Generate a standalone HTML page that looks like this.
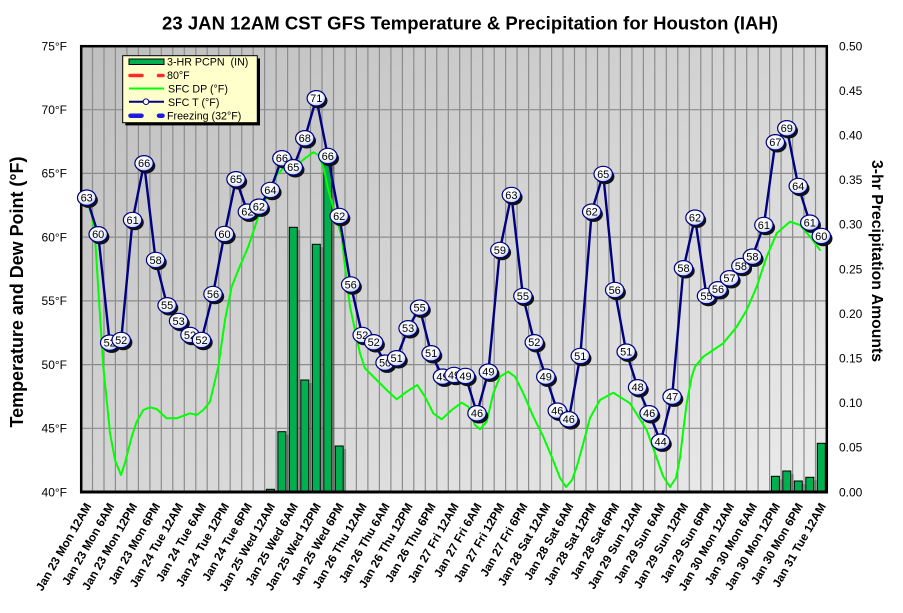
<!DOCTYPE html>
<html>
<head>
<meta charset="utf-8">
<style>
html,body{margin:0;padding:0;background:#fff;}
svg{display:block;}
text{font-family:"Liberation Sans",Arial,sans-serif;}
</style>
</head>
<body>
<svg width="903" height="613" viewBox="0 0 903 613" xmlns="http://www.w3.org/2000/svg">
<defs>
<linearGradient id="bg" x1="0" y1="0" x2="1" y2="1">
<stop offset="0" stop-color="#bfbfbf"/>
<stop offset="1" stop-color="#ebebeb"/>
</linearGradient>
<radialGradient id="mg" cx="0.4" cy="0.35" r="0.7">
<stop offset="0" stop-color="#ffffff"/>
<stop offset="0.6" stop-color="#f4f7ff"/>
<stop offset="1" stop-color="#b8c8ea"/>
</radialGradient>
</defs>

<!-- title -->
<text x="162" y="29.5" font-size="18.5" font-weight="bold" textLength="616" lengthAdjust="spacing">23 JAN 12AM CST GFS Temperature &amp; Precipitation for Houston (IAH)</text>

<!-- plot background -->
<rect x="81" y="46" width="746" height="446" fill="url(#bg)"/>

<!-- grid -->
<path stroke="#8c8c8c" stroke-width="1.2" fill="none" d="M92.5,46V492M104,46V492M115.4,46V492M126.9,46V492M138.4,46V492M149.9,46V492M161.3,46V492M172.8,46V492M184.3,46V492M195.8,46V492M207.2,46V492M218.7,46V492M230.2,46V492M241.7,46V492M253.2,46V492M264.6,46V492M276.1,46V492M287.6,46V492M299.1,46V492M310.5,46V492M322,46V492M333.5,46V492M345,46V492M356.4,46V492M367.9,46V492M379.4,46V492M390.9,46V492M402.4,46V492M413.8,46V492M425.3,46V492M436.8,46V492M448.3,46V492M459.7,46V492M471.2,46V492M482.7,46V492M494.2,46V492M505.6,46V492M517.1,46V492M528.6,46V492M540.1,46V492M551.6,46V492M563,46V492M574.5,46V492M586,46V492M597.5,46V492M608.9,46V492M620.4,46V492M631.9,46V492M643.4,46V492M654.8,46V492M666.3,46V492M677.8,46V492M689.3,46V492M700.8,46V492M712.2,46V492M723.7,46V492M735.2,46V492M746.7,46V492M758.1,46V492M769.6,46V492M781.1,46V492M792.6,46V492M804,46V492M815.5,46V492M81,109.7H827M81,173.4H827M81,237.1H827M81,300.9H827M81,364.6H827M81,428.3H827"/>

<!-- bar shadows -->
<g fill="#000" opacity="0.22">
<rect x="280.9" y="434.7" width="8" height="57.3"/>
<rect x="292.3" y="230.3" width="8" height="261.7"/>
<rect x="303.8" y="383" width="8" height="109"/>
<rect x="315.3" y="247.3" width="8" height="244.7"/>
<rect x="326.8" y="166" width="8" height="326"/>
<rect x="338.2" y="449" width="8" height="43"/>
<rect x="774.4" y="479.3" width="8" height="12.7"/>
<rect x="785.8" y="474" width="8" height="18"/>
<rect x="797.3" y="484" width="8" height="8"/>
<rect x="808.8" y="480.3" width="8" height="11.7"/>
</g>
<!-- bars -->
<g fill="#00b050" stroke="#000" stroke-width="1">
<rect x="266.4" y="489.3" width="8" height="2.7"/>
<rect x="277.9" y="431.7" width="8" height="60.3"/>
<rect x="289.3" y="227.3" width="8" height="264.7"/>
<rect x="300.8" y="380" width="8" height="112"/>
<rect x="312.3" y="244.3" width="8" height="247.7"/>
<rect x="323.8" y="163" width="8" height="329"/>
<rect x="335.2" y="446" width="8" height="46"/>
<rect x="771.4" y="476.3" width="8" height="15.7"/>
<rect x="782.8" y="471" width="8" height="21"/>
<rect x="794.3" y="481" width="8" height="11"/>
<rect x="805.8" y="477.3" width="8" height="14.7"/>
<rect x="817.3" y="443.3" width="8" height="48.7"/>
</g>

<!-- dew point -->
<polyline fill="none" stroke="#00ff00" stroke-width="2" stroke-linejoin="round" stroke-linecap="round" points="86.7,200 92,216 95,237 99,300 103.3,366.7 106.7,400 110,433 115,460 121,475 125,463 131.7,436.7 136.7,421.7 143.3,410 150,407.3 156.7,409 166.7,418.3 176.7,418.3 190,413.3 196.7,415 203.3,410 210,401.7 218.3,366.7 225,320 231.7,286.7 238.3,270 248.3,246.7 258.3,216.7 268.3,193.3 276.7,175 283.3,168.3 295,167.3 305,158.3 313.3,152.3 318.3,155 323.3,166.7 328.3,190 335,213.3 341.7,236.7 345,266.7 350,306.7 355,330 360,353.3 365,368.3 376.7,380 386.7,390 396.7,399.3 406.7,391.7 417.3,385 425,396.7 433.3,413.3 441.7,419.3 451.7,410 461.7,402.7 468.3,406.7 475,425 480,429.3 486.7,421.7 493.3,393.3 500,376.7 508.3,371.7 515,376.7 523.3,393.3 533.3,416.7 543.3,436.7 553,460 560,478 566,487 572,480 577,466 582,448 590,418 600,400 613.3,392.7 630,403.3 646.7,430 656.7,458 663,476 670,487 676,478 680,458 683.3,430 686.7,403.3 691.7,376.7 695,366.7 703.3,356.7 713.3,350 723.3,343.3 736.7,326.7 746.7,310 756.7,286.7 766.7,256.7 776.7,233.3 790,221.7 800,225 810,236.7 820,250"/>

<!-- temperature line -->
<polyline fill="none" stroke="#000080" stroke-width="2.4" stroke-linejoin="round" points="86.7,197.7 98.2,234.3 109.7,342.7 121.2,340 132.6,220 144.1,163.3 155.6,260 167.1,305.3 178.6,321 190,335 201.5,340 213,294 224.5,234 236,179.3 247.4,211.7 258.9,206.7 270.4,190 281.9,158.3 293.3,167.3 304.8,138.3 316.3,98.3 327.8,156 339.2,216 350.7,284.5 362.2,335 373.7,342.3 385.1,362.7 396.6,358.3 408.1,328.3 419.6,307.7 431.1,353.3 442.5,376.7 454,375 465.5,376 477,413.3 488.4,371.7 499.9,250 511.4,195 522.9,296 534.3,342.3 545.8,376.7 557.3,410.7 568.8,419.3 580.3,356 591.7,211.7 603.2,174 614.7,290 626.2,351.7 637.6,387.3 649.1,413.3 660.6,441.7 672.1,396.7 683.5,268.3 695,217.7 706.5,296 718,289.3 729.5,278.3 740.9,266 752.4,256.7 763.9,225 775.4,142.3 786.8,128.3 798.3,186 809.8,222.7 821.3,236"/>

<!-- plot border -->
<rect x="81.2" y="46.2" width="745.6" height="445.6" fill="none" stroke="#000" stroke-width="2.5"/>
<line x1="80" y1="492" x2="828" y2="492" stroke="#000" stroke-width="3"/>

<!-- markers -->
<g font-size="11" text-anchor="middle">
<g><ellipse cx="88.7" cy="200.2" rx="9.2" ry="7.7" fill="#111"/><ellipse cx="86.7" cy="197.7" rx="9.2" ry="7.7" fill="url(#mg)" stroke="#000080" stroke-width="1.2"/><text x="86.7" y="201.6">63</text></g>
<g><ellipse cx="100.2" cy="236.8" rx="9.2" ry="7.7" fill="#111"/><ellipse cx="98.2" cy="234.3" rx="9.2" ry="7.7" fill="url(#mg)" stroke="#000080" stroke-width="1.2"/><text x="98.2" y="238.2">60</text></g>
<g><ellipse cx="111.7" cy="345.2" rx="9.2" ry="7.7" fill="#111"/><ellipse cx="109.7" cy="342.7" rx="9.2" ry="7.7" fill="url(#mg)" stroke="#000080" stroke-width="1.2"/><text x="109.7" y="346.6">52</text></g>
<g><ellipse cx="123.2" cy="342.5" rx="9.2" ry="7.7" fill="#111"/><ellipse cx="121.2" cy="340" rx="9.2" ry="7.7" fill="url(#mg)" stroke="#000080" stroke-width="1.2"/><text x="121.2" y="343.9">52</text></g>
<g><ellipse cx="134.6" cy="222.5" rx="9.2" ry="7.7" fill="#111"/><ellipse cx="132.6" cy="220" rx="9.2" ry="7.7" fill="url(#mg)" stroke="#000080" stroke-width="1.2"/><text x="132.6" y="223.9">61</text></g>
<g><ellipse cx="146.1" cy="165.8" rx="9.2" ry="7.7" fill="#111"/><ellipse cx="144.1" cy="163.3" rx="9.2" ry="7.7" fill="url(#mg)" stroke="#000080" stroke-width="1.2"/><text x="144.1" y="167.2">66</text></g>
<g><ellipse cx="157.6" cy="262.5" rx="9.2" ry="7.7" fill="#111"/><ellipse cx="155.6" cy="260" rx="9.2" ry="7.7" fill="url(#mg)" stroke="#000080" stroke-width="1.2"/><text x="155.6" y="263.9">58</text></g>
<g><ellipse cx="169.1" cy="307.8" rx="9.2" ry="7.7" fill="#111"/><ellipse cx="167.1" cy="305.3" rx="9.2" ry="7.7" fill="url(#mg)" stroke="#000080" stroke-width="1.2"/><text x="167.1" y="309.2">55</text></g>
<g><ellipse cx="180.6" cy="323.5" rx="9.2" ry="7.7" fill="#111"/><ellipse cx="178.6" cy="321" rx="9.2" ry="7.7" fill="url(#mg)" stroke="#000080" stroke-width="1.2"/><text x="178.6" y="324.9">53</text></g>
<g><ellipse cx="192" cy="337.5" rx="9.2" ry="7.7" fill="#111"/><ellipse cx="190" cy="335" rx="9.2" ry="7.7" fill="url(#mg)" stroke="#000080" stroke-width="1.2"/><text x="190" y="338.9">52</text></g>
<g><ellipse cx="203.5" cy="342.5" rx="9.2" ry="7.7" fill="#111"/><ellipse cx="201.5" cy="340" rx="9.2" ry="7.7" fill="url(#mg)" stroke="#000080" stroke-width="1.2"/><text x="201.5" y="343.9">52</text></g>
<g><ellipse cx="215" cy="296.5" rx="9.2" ry="7.7" fill="#111"/><ellipse cx="213" cy="294" rx="9.2" ry="7.7" fill="url(#mg)" stroke="#000080" stroke-width="1.2"/><text x="213" y="297.9">56</text></g>
<g><ellipse cx="226.5" cy="236.5" rx="9.2" ry="7.7" fill="#111"/><ellipse cx="224.5" cy="234" rx="9.2" ry="7.7" fill="url(#mg)" stroke="#000080" stroke-width="1.2"/><text x="224.5" y="237.9">60</text></g>
<g><ellipse cx="238" cy="181.8" rx="9.2" ry="7.7" fill="#111"/><ellipse cx="236" cy="179.3" rx="9.2" ry="7.7" fill="url(#mg)" stroke="#000080" stroke-width="1.2"/><text x="236" y="183.2">65</text></g>
<g><ellipse cx="249.4" cy="214.2" rx="9.2" ry="7.7" fill="#111"/><ellipse cx="247.4" cy="211.7" rx="9.2" ry="7.7" fill="url(#mg)" stroke="#000080" stroke-width="1.2"/><text x="247.4" y="215.6">62</text></g>
<g><ellipse cx="260.9" cy="209.2" rx="9.2" ry="7.7" fill="#111"/><ellipse cx="258.9" cy="206.7" rx="9.2" ry="7.7" fill="url(#mg)" stroke="#000080" stroke-width="1.2"/><text x="258.9" y="210.6">62</text></g>
<g><ellipse cx="272.4" cy="192.5" rx="9.2" ry="7.7" fill="#111"/><ellipse cx="270.4" cy="190" rx="9.2" ry="7.7" fill="url(#mg)" stroke="#000080" stroke-width="1.2"/><text x="270.4" y="193.9">64</text></g>
<g><ellipse cx="283.9" cy="160.8" rx="9.2" ry="7.7" fill="#111"/><ellipse cx="281.9" cy="158.3" rx="9.2" ry="7.7" fill="url(#mg)" stroke="#000080" stroke-width="1.2"/><text x="281.9" y="162.2">66</text></g>
<g><ellipse cx="295.3" cy="169.8" rx="9.2" ry="7.7" fill="#111"/><ellipse cx="293.3" cy="167.3" rx="9.2" ry="7.7" fill="url(#mg)" stroke="#000080" stroke-width="1.2"/><text x="293.3" y="171.2">65</text></g>
<g><ellipse cx="306.8" cy="140.8" rx="9.2" ry="7.7" fill="#111"/><ellipse cx="304.8" cy="138.3" rx="9.2" ry="7.7" fill="url(#mg)" stroke="#000080" stroke-width="1.2"/><text x="304.8" y="142.2">68</text></g>
<g><ellipse cx="318.3" cy="100.8" rx="9.2" ry="7.7" fill="#111"/><ellipse cx="316.3" cy="98.3" rx="9.2" ry="7.7" fill="url(#mg)" stroke="#000080" stroke-width="1.2"/><text x="316.3" y="102.2">71</text></g>
<g><ellipse cx="329.8" cy="158.5" rx="9.2" ry="7.7" fill="#111"/><ellipse cx="327.8" cy="156" rx="9.2" ry="7.7" fill="url(#mg)" stroke="#000080" stroke-width="1.2"/><text x="327.8" y="159.9">66</text></g>
<g><ellipse cx="341.2" cy="218.5" rx="9.2" ry="7.7" fill="#111"/><ellipse cx="339.2" cy="216" rx="9.2" ry="7.7" fill="url(#mg)" stroke="#000080" stroke-width="1.2"/><text x="339.2" y="219.9">62</text></g>
<g><ellipse cx="352.7" cy="287" rx="9.2" ry="7.7" fill="#111"/><ellipse cx="350.7" cy="284.5" rx="9.2" ry="7.7" fill="url(#mg)" stroke="#000080" stroke-width="1.2"/><text x="350.7" y="288.4">56</text></g>
<g><ellipse cx="364.2" cy="337.5" rx="9.2" ry="7.7" fill="#111"/><ellipse cx="362.2" cy="335" rx="9.2" ry="7.7" fill="url(#mg)" stroke="#000080" stroke-width="1.2"/><text x="362.2" y="338.9">52</text></g>
<g><ellipse cx="375.7" cy="344.8" rx="9.2" ry="7.7" fill="#111"/><ellipse cx="373.7" cy="342.3" rx="9.2" ry="7.7" fill="url(#mg)" stroke="#000080" stroke-width="1.2"/><text x="373.7" y="346.2">52</text></g>
<g><ellipse cx="387.1" cy="365.2" rx="9.2" ry="7.7" fill="#111"/><ellipse cx="385.1" cy="362.7" rx="9.2" ry="7.7" fill="url(#mg)" stroke="#000080" stroke-width="1.2"/><text x="385.1" y="366.6">50</text></g>
<g><ellipse cx="398.6" cy="360.8" rx="9.2" ry="7.7" fill="#111"/><ellipse cx="396.6" cy="358.3" rx="9.2" ry="7.7" fill="url(#mg)" stroke="#000080" stroke-width="1.2"/><text x="396.6" y="362.2">51</text></g>
<g><ellipse cx="410.1" cy="330.8" rx="9.2" ry="7.7" fill="#111"/><ellipse cx="408.1" cy="328.3" rx="9.2" ry="7.7" fill="url(#mg)" stroke="#000080" stroke-width="1.2"/><text x="408.1" y="332.2">53</text></g>
<g><ellipse cx="421.6" cy="310.2" rx="9.2" ry="7.7" fill="#111"/><ellipse cx="419.6" cy="307.7" rx="9.2" ry="7.7" fill="url(#mg)" stroke="#000080" stroke-width="1.2"/><text x="419.6" y="311.6">55</text></g>
<g><ellipse cx="433.1" cy="355.8" rx="9.2" ry="7.7" fill="#111"/><ellipse cx="431.1" cy="353.3" rx="9.2" ry="7.7" fill="url(#mg)" stroke="#000080" stroke-width="1.2"/><text x="431.1" y="357.2">51</text></g>
<g><ellipse cx="444.5" cy="379.2" rx="9.2" ry="7.7" fill="#111"/><ellipse cx="442.5" cy="376.7" rx="9.2" ry="7.7" fill="url(#mg)" stroke="#000080" stroke-width="1.2"/><text x="442.5" y="380.6">49</text></g>
<g><ellipse cx="456" cy="377.5" rx="9.2" ry="7.7" fill="#111"/><ellipse cx="454" cy="375" rx="9.2" ry="7.7" fill="url(#mg)" stroke="#000080" stroke-width="1.2"/><text x="454" y="378.9">49</text></g>
<g><ellipse cx="467.5" cy="378.5" rx="9.2" ry="7.7" fill="#111"/><ellipse cx="465.5" cy="376" rx="9.2" ry="7.7" fill="url(#mg)" stroke="#000080" stroke-width="1.2"/><text x="465.5" y="379.9">49</text></g>
<g><ellipse cx="479" cy="415.8" rx="9.2" ry="7.7" fill="#111"/><ellipse cx="477" cy="413.3" rx="9.2" ry="7.7" fill="url(#mg)" stroke="#000080" stroke-width="1.2"/><text x="477" y="417.2">46</text></g>
<g><ellipse cx="490.4" cy="374.2" rx="9.2" ry="7.7" fill="#111"/><ellipse cx="488.4" cy="371.7" rx="9.2" ry="7.7" fill="url(#mg)" stroke="#000080" stroke-width="1.2"/><text x="488.4" y="375.6">49</text></g>
<g><ellipse cx="501.9" cy="252.5" rx="9.2" ry="7.7" fill="#111"/><ellipse cx="499.9" cy="250" rx="9.2" ry="7.7" fill="url(#mg)" stroke="#000080" stroke-width="1.2"/><text x="499.9" y="253.9">59</text></g>
<g><ellipse cx="513.4" cy="197.5" rx="9.2" ry="7.7" fill="#111"/><ellipse cx="511.4" cy="195" rx="9.2" ry="7.7" fill="url(#mg)" stroke="#000080" stroke-width="1.2"/><text x="511.4" y="198.9">63</text></g>
<g><ellipse cx="524.9" cy="298.5" rx="9.2" ry="7.7" fill="#111"/><ellipse cx="522.9" cy="296" rx="9.2" ry="7.7" fill="url(#mg)" stroke="#000080" stroke-width="1.2"/><text x="522.9" y="299.9">55</text></g>
<g><ellipse cx="536.3" cy="344.8" rx="9.2" ry="7.7" fill="#111"/><ellipse cx="534.3" cy="342.3" rx="9.2" ry="7.7" fill="url(#mg)" stroke="#000080" stroke-width="1.2"/><text x="534.3" y="346.2">52</text></g>
<g><ellipse cx="547.8" cy="379.2" rx="9.2" ry="7.7" fill="#111"/><ellipse cx="545.8" cy="376.7" rx="9.2" ry="7.7" fill="url(#mg)" stroke="#000080" stroke-width="1.2"/><text x="545.8" y="380.6">49</text></g>
<g><ellipse cx="559.3" cy="413.2" rx="9.2" ry="7.7" fill="#111"/><ellipse cx="557.3" cy="410.7" rx="9.2" ry="7.7" fill="url(#mg)" stroke="#000080" stroke-width="1.2"/><text x="557.3" y="414.6">46</text></g>
<g><ellipse cx="570.8" cy="421.8" rx="9.2" ry="7.7" fill="#111"/><ellipse cx="568.8" cy="419.3" rx="9.2" ry="7.7" fill="url(#mg)" stroke="#000080" stroke-width="1.2"/><text x="568.8" y="423.2">46</text></g>
<g><ellipse cx="582.3" cy="358.5" rx="9.2" ry="7.7" fill="#111"/><ellipse cx="580.3" cy="356" rx="9.2" ry="7.7" fill="url(#mg)" stroke="#000080" stroke-width="1.2"/><text x="580.3" y="359.9">51</text></g>
<g><ellipse cx="593.7" cy="214.2" rx="9.2" ry="7.7" fill="#111"/><ellipse cx="591.7" cy="211.7" rx="9.2" ry="7.7" fill="url(#mg)" stroke="#000080" stroke-width="1.2"/><text x="591.7" y="215.6">62</text></g>
<g><ellipse cx="605.2" cy="176.5" rx="9.2" ry="7.7" fill="#111"/><ellipse cx="603.2" cy="174" rx="9.2" ry="7.7" fill="url(#mg)" stroke="#000080" stroke-width="1.2"/><text x="603.2" y="177.9">65</text></g>
<g><ellipse cx="616.7" cy="292.5" rx="9.2" ry="7.7" fill="#111"/><ellipse cx="614.7" cy="290" rx="9.2" ry="7.7" fill="url(#mg)" stroke="#000080" stroke-width="1.2"/><text x="614.7" y="293.9">56</text></g>
<g><ellipse cx="628.2" cy="354.2" rx="9.2" ry="7.7" fill="#111"/><ellipse cx="626.2" cy="351.7" rx="9.2" ry="7.7" fill="url(#mg)" stroke="#000080" stroke-width="1.2"/><text x="626.2" y="355.6">51</text></g>
<g><ellipse cx="639.6" cy="389.8" rx="9.2" ry="7.7" fill="#111"/><ellipse cx="637.6" cy="387.3" rx="9.2" ry="7.7" fill="url(#mg)" stroke="#000080" stroke-width="1.2"/><text x="637.6" y="391.2">48</text></g>
<g><ellipse cx="651.1" cy="415.8" rx="9.2" ry="7.7" fill="#111"/><ellipse cx="649.1" cy="413.3" rx="9.2" ry="7.7" fill="url(#mg)" stroke="#000080" stroke-width="1.2"/><text x="649.1" y="417.2">46</text></g>
<g><ellipse cx="662.6" cy="444.2" rx="9.2" ry="7.7" fill="#111"/><ellipse cx="660.6" cy="441.7" rx="9.2" ry="7.7" fill="url(#mg)" stroke="#000080" stroke-width="1.2"/><text x="660.6" y="445.6">44</text></g>
<g><ellipse cx="674.1" cy="399.2" rx="9.2" ry="7.7" fill="#111"/><ellipse cx="672.1" cy="396.7" rx="9.2" ry="7.7" fill="url(#mg)" stroke="#000080" stroke-width="1.2"/><text x="672.1" y="400.6">47</text></g>
<g><ellipse cx="685.5" cy="270.8" rx="9.2" ry="7.7" fill="#111"/><ellipse cx="683.5" cy="268.3" rx="9.2" ry="7.7" fill="url(#mg)" stroke="#000080" stroke-width="1.2"/><text x="683.5" y="272.2">58</text></g>
<g><ellipse cx="697" cy="220.2" rx="9.2" ry="7.7" fill="#111"/><ellipse cx="695" cy="217.7" rx="9.2" ry="7.7" fill="url(#mg)" stroke="#000080" stroke-width="1.2"/><text x="695" y="221.6">62</text></g>
<g><ellipse cx="708.5" cy="298.5" rx="9.2" ry="7.7" fill="#111"/><ellipse cx="706.5" cy="296" rx="9.2" ry="7.7" fill="url(#mg)" stroke="#000080" stroke-width="1.2"/><text x="706.5" y="299.9">55</text></g>
<g><ellipse cx="720" cy="291.8" rx="9.2" ry="7.7" fill="#111"/><ellipse cx="718" cy="289.3" rx="9.2" ry="7.7" fill="url(#mg)" stroke="#000080" stroke-width="1.2"/><text x="718" y="293.2">56</text></g>
<g><ellipse cx="731.5" cy="280.8" rx="9.2" ry="7.7" fill="#111"/><ellipse cx="729.5" cy="278.3" rx="9.2" ry="7.7" fill="url(#mg)" stroke="#000080" stroke-width="1.2"/><text x="729.5" y="282.2">57</text></g>
<g><ellipse cx="742.9" cy="268.5" rx="9.2" ry="7.7" fill="#111"/><ellipse cx="740.9" cy="266" rx="9.2" ry="7.7" fill="url(#mg)" stroke="#000080" stroke-width="1.2"/><text x="740.9" y="269.9">58</text></g>
<g><ellipse cx="754.4" cy="259.2" rx="9.2" ry="7.7" fill="#111"/><ellipse cx="752.4" cy="256.7" rx="9.2" ry="7.7" fill="url(#mg)" stroke="#000080" stroke-width="1.2"/><text x="752.4" y="260.6">58</text></g>
<g><ellipse cx="765.9" cy="227.5" rx="9.2" ry="7.7" fill="#111"/><ellipse cx="763.9" cy="225" rx="9.2" ry="7.7" fill="url(#mg)" stroke="#000080" stroke-width="1.2"/><text x="763.9" y="228.9">61</text></g>
<g><ellipse cx="777.4" cy="144.8" rx="9.2" ry="7.7" fill="#111"/><ellipse cx="775.4" cy="142.3" rx="9.2" ry="7.7" fill="url(#mg)" stroke="#000080" stroke-width="1.2"/><text x="775.4" y="146.2">67</text></g>
<g><ellipse cx="788.8" cy="130.8" rx="9.2" ry="7.7" fill="#111"/><ellipse cx="786.8" cy="128.3" rx="9.2" ry="7.7" fill="url(#mg)" stroke="#000080" stroke-width="1.2"/><text x="786.8" y="132.2">69</text></g>
<g><ellipse cx="800.3" cy="188.5" rx="9.2" ry="7.7" fill="#111"/><ellipse cx="798.3" cy="186" rx="9.2" ry="7.7" fill="url(#mg)" stroke="#000080" stroke-width="1.2"/><text x="798.3" y="189.9">64</text></g>
<g><ellipse cx="811.8" cy="225.2" rx="9.2" ry="7.7" fill="#111"/><ellipse cx="809.8" cy="222.7" rx="9.2" ry="7.7" fill="url(#mg)" stroke="#000080" stroke-width="1.2"/><text x="809.8" y="226.6">61</text></g>
<g><ellipse cx="823.3" cy="238.5" rx="9.2" ry="7.7" fill="#111"/><ellipse cx="821.3" cy="236" rx="9.2" ry="7.7" fill="url(#mg)" stroke="#000080" stroke-width="1.2"/><text x="821.3" y="239.9">60</text></g>
</g>

<!-- legend -->
<rect x="125.4" y="58.4" width="134.6" height="67" fill="#000"/>
<rect x="122.7" y="55.7" width="134.6" height="67" fill="#ffffcc" stroke="#000" stroke-width="1"/>
<rect x="129" y="59" width="35" height="5.5" fill="#00b050" stroke="#000" stroke-width="1"/>
<line x1="130" y1="75.5" x2="142" y2="75.5" stroke="#ff2a2a" stroke-width="3.5" stroke-linecap="round"/>
<line x1="158.5" y1="75.5" x2="163" y2="75.5" stroke="#ff2a2a" stroke-width="3.5" stroke-linecap="round"/>
<line x1="129" y1="88.5" x2="164" y2="88.5" stroke="#00ff00" stroke-width="2"/>
<line x1="129" y1="101.7" x2="164" y2="101.7" stroke="#000080" stroke-width="2"/>
<circle cx="146" cy="101.7" r="2.8" fill="#fff" stroke="#000080" stroke-width="1"/>
<line x1="130.5" y1="115.7" x2="141.5" y2="115.7" stroke="#1c1ce0" stroke-width="4.5" stroke-linecap="round"/>
<line x1="159" y1="115.7" x2="162.5" y2="115.7" stroke="#1c1ce0" stroke-width="4.5" stroke-linecap="round"/>
<g font-size="10.7">
<text x="167" y="65.7" xml:space="preserve">3-HR PCPN  (IN)</text>
<text x="167" y="79">80°F</text>
<text x="168" y="92.6">SFC DP (°F)</text>
<text x="168" y="106">SFC T (°F)</text>
<text x="167" y="119.5">Freezing (32°F)</text>
</g>

<!-- left axis labels -->
<g font-size="12" text-anchor="end">
<text x="67" y="50.3">75°F</text>
<text x="67" y="114">70°F</text>
<text x="67" y="177.7">65°F</text>
<text x="67" y="241.4">60°F</text>
<text x="67" y="305.2">55°F</text>
<text x="67" y="368.9">50°F</text>
<text x="67" y="432.6">45°F</text>
<text x="67" y="496.3">40°F</text>
</g>
<!-- right axis labels -->
<g font-size="12">
<text x="839" y="50.3">0.50</text>
<text x="839" y="94.9">0.45</text>
<text x="839" y="139.5">0.40</text>
<text x="839" y="184.1">0.35</text>
<text x="839" y="228.7">0.30</text>
<text x="839" y="273.3">0.25</text>
<text x="839" y="317.9">0.20</text>
<text x="839" y="362.5">0.15</text>
<text x="839" y="407.1">0.10</text>
<text x="839" y="451.7">0.05</text>
<text x="839" y="496.3">0.00</text>
</g>

<!-- axis titles -->
<text transform="translate(23,292) rotate(-90)" text-anchor="middle" font-size="18" font-weight="bold" textLength="271" lengthAdjust="spacing">Temperature and Dew Point (°F)</text>
<text transform="translate(872,261) rotate(90)" text-anchor="middle" font-size="15.7" font-weight="bold" textLength="202" lengthAdjust="spacing">3-hr Precipitation Amounts</text>

<!-- x axis labels -->
<g font-size="11.8" font-weight="bold" text-anchor="end">
<text transform="translate(91.7,506) rotate(-60)">Jan 23 Mon 12AM</text>
<text transform="translate(114.7,506) rotate(-60)">Jan 23 Mon 6AM</text>
<text transform="translate(137.6,506) rotate(-60)">Jan 23 Mon 12PM</text>
<text transform="translate(160.6,506) rotate(-60)">Jan 23 Mon 6PM</text>
<text transform="translate(183.6,506) rotate(-60)">Jan 24 Tue 12AM</text>
<text transform="translate(206.5,506) rotate(-60)">Jan 24 Tue 6AM</text>
<text transform="translate(229.5,506) rotate(-60)">Jan 24 Tue 12PM</text>
<text transform="translate(252.4,506) rotate(-60)">Jan 24 Tue 6PM</text>
<text transform="translate(275.4,506) rotate(-60)">Jan 25 Wed 12AM</text>
<text transform="translate(298.3,506) rotate(-60)">Jan 25 Wed 6AM</text>
<text transform="translate(321.3,506) rotate(-60)">Jan 25 Wed 12PM</text>
<text transform="translate(344.2,506) rotate(-60)">Jan 25 Wed 6PM</text>
<text transform="translate(367.2,506) rotate(-60)">Jan 26 Thu 12AM</text>
<text transform="translate(390.1,506) rotate(-60)">Jan 26 Thu 6AM</text>
<text transform="translate(413.1,506) rotate(-60)">Jan 26 Thu 12PM</text>
<text transform="translate(436.1,506) rotate(-60)">Jan 26 Thu 6PM</text>
<text transform="translate(459,506) rotate(-60)">Jan 27 Fri 12AM</text>
<text transform="translate(482,506) rotate(-60)">Jan 27 Fri 6AM</text>
<text transform="translate(504.9,506) rotate(-60)">Jan 27 Fri 12PM</text>
<text transform="translate(527.9,506) rotate(-60)">Jan 27 Fri 6PM</text>
<text transform="translate(550.8,506) rotate(-60)">Jan 28 Sat 12AM</text>
<text transform="translate(573.8,506) rotate(-60)">Jan 28 Sat 6AM</text>
<text transform="translate(596.7,506) rotate(-60)">Jan 28 Sat 12PM</text>
<text transform="translate(619.7,506) rotate(-60)">Jan 28 Sat 6PM</text>
<text transform="translate(642.6,506) rotate(-60)">Jan 29 Sun 12AM</text>
<text transform="translate(665.6,506) rotate(-60)">Jan 29 Sun 6AM</text>
<text transform="translate(688.5,506) rotate(-60)">Jan 29 Sun 12PM</text>
<text transform="translate(711.5,506) rotate(-60)">Jan 29 Sun 6PM</text>
<text transform="translate(734.5,506) rotate(-60)">Jan 30 Mon 12AM</text>
<text transform="translate(757.4,506) rotate(-60)">Jan 30 Mon 6AM</text>
<text transform="translate(780.4,506) rotate(-60)">Jan 30 Mon 12PM</text>
<text transform="translate(803.3,506) rotate(-60)">Jan 30 Mon 6PM</text>
<text transform="translate(826.3,506) rotate(-60)">Jan 31 Tue 12AM</text>
</g>
</svg>
</body>
</html>
